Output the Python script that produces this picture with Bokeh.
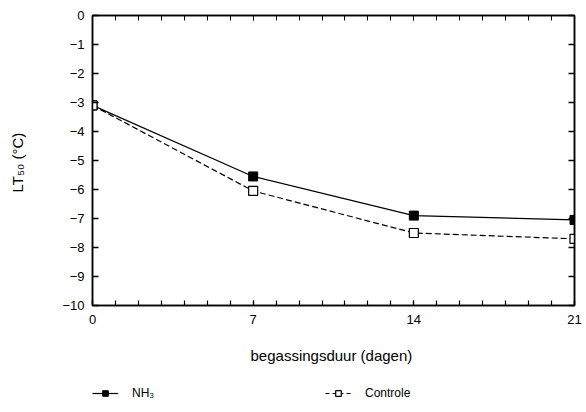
from bokeh.plotting import figure
from bokeh.layouts import column
from bokeh.models import (LinearAxis, FixedTicker, Range1d, Legend, LegendItem)
from bokeh.embed import file_html
from bokeh.resources import INLINE

days = [0, 7, 14, 21]
nh3 = [-3.1, -5.55, -6.9, -7.05]
controle = [-3.1, -6.05, -7.5, -7.7]
y_ticks = list(range(-10, 1))
x_ticks = [0, 7, 14, 21]
x_minor = list(range(0, 22))
series_names = ["NH₃", "Controle"]

FONT = "Liberation Sans"

p = figure(width=586, height=370, output_backend="svg", toolbar_location=None,
           x_range=Range1d(0, 21), y_range=Range1d(-10, 0),
           min_border_left=92, min_border_right=12, min_border_top=15,
           min_border_bottom=65, x_axis_location=None, y_axis_location=None)
p.grid.visible = False
p.outline_line_color = "black"
p.outline_line_width = 1.5
p.background_fill_color = "white"
p.border_fill_color = "white"


def hide_labels(ax, ticks):
    ax.major_label_overrides = {t: "" for t in ticks}
    ax.major_label_text_color = None
    ax.major_label_standoff = 0


ly = LinearAxis(ticker=FixedTicker(ticks=y_ticks, minor_ticks=[]),
                axis_label="LT₅₀  (°C)")
ly.major_tick_in = 6
ly.major_tick_out = 0
ly.minor_tick_out = 0
ly.axis_line_width = 1.5
ly.major_tick_line_width = 1.5
ly.major_label_text_font = FONT
ly.major_label_text_font_size = "13px"
ly.major_label_text_color = "black"
ly.major_label_standoff = 8
ly.axis_label_text_font = FONT
ly.axis_label_text_font_style = "normal"
ly.axis_label_text_font_size = "15px"
ly.axis_label_text_color = "black"
ly.axis_label_standoff = 33
ly.major_label_overrides = {t: ("\u2212" + str(-t) if t < 0 else str(t)) for t in y_ticks}
p.add_layout(ly, "left")

ry = LinearAxis(ticker=FixedTicker(ticks=y_ticks, minor_ticks=[]))
ry.major_tick_in = 6
ry.major_tick_out = 0
ry.axis_line_width = 1.5
ry.major_tick_line_width = 1.5
hide_labels(ry, y_ticks)
p.add_layout(ry, "right")

bx = LinearAxis(ticker=FixedTicker(ticks=x_ticks, minor_ticks=x_minor),
                axis_label="begassingsduur  (dagen)")
bx.major_tick_in = 5
bx.major_tick_out = 0
bx.minor_tick_in = 5
bx.minor_tick_out = 0
bx.axis_line_width = 1.5
bx.major_tick_line_width = 1.2
bx.minor_tick_line_width = 1.2
bx.major_label_text_font = FONT
bx.major_label_text_font_size = "13px"
bx.major_label_text_color = "black"
bx.major_label_standoff = 9
bx.axis_label_text_font = FONT
bx.axis_label_text_font_style = "normal"
bx.axis_label_text_font_size = "15px"
bx.axis_label_text_color = "black"
bx.axis_label_standoff = 20
p.add_layout(bx, "below")

tx = LinearAxis(ticker=FixedTicker(ticks=x_ticks, minor_ticks=x_minor))
tx.major_tick_in = 5
tx.major_tick_out = 0
tx.minor_tick_in = 5
tx.minor_tick_out = 0
tx.axis_line_width = 1.5
hide_labels(tx, x_ticks)
p.add_layout(tx, "above")

p.line(days, nh3, line_color="black", line_width=1.2)
p.scatter(days, nh3, marker="square", size=9, fill_color="black", line_color="black")
p.line(days, controle, line_color="black", line_width=1.2, line_dash="6 3")
p.scatter(days, controle, marker="square", size=9, fill_color="white",
          line_color="black", line_width=1.2)

# legend strip below the chart (its renderers sit outside the visible range)
q = figure(width=586, height=42, output_backend="svg", toolbar_location=None,
           x_range=Range1d(100, 101), y_range=Range1d(100, 101),
           min_border_left=0, min_border_right=0, min_border_top=0,
           min_border_bottom=0, x_axis_location=None, y_axis_location=None)
q.grid.visible = False
q.outline_line_color = None
q.border_fill_color = "white"
q.background_fill_color = "white"
e1 = q.line(days, nh3, line_color="black", line_width=1.2)
f1 = q.scatter(days, nh3, marker="square", size=9, fill_color="black", line_color="black")
e2 = q.line(days, controle, line_color="black", line_width=1.2, line_dash="4 3")
f2 = q.scatter(days, controle, marker="square", size=9, fill_color="white",
               line_color="black", line_width=1.2)

legend = Legend(items=[LegendItem(label=series_names[0], renderers=[e1, f1]),
                       LegendItem(label=series_names[1], renderers=[e2, f2])],
                orientation="horizontal", location=(0, 12),
                border_line_color=None, background_fill_alpha=0,
                label_text_font=FONT, label_text_font_size="12px",
                label_text_color="black",
                glyph_width=26, glyph_height=14, label_height=14,
                label_standoff=14, spacing=153,
                margin=0, padding=0)
legend.label_width = 40
q.add_layout(legend)

layout = column(p, q, spacing=0)
open("out.html", "w").write(file_html(layout, INLINE))
